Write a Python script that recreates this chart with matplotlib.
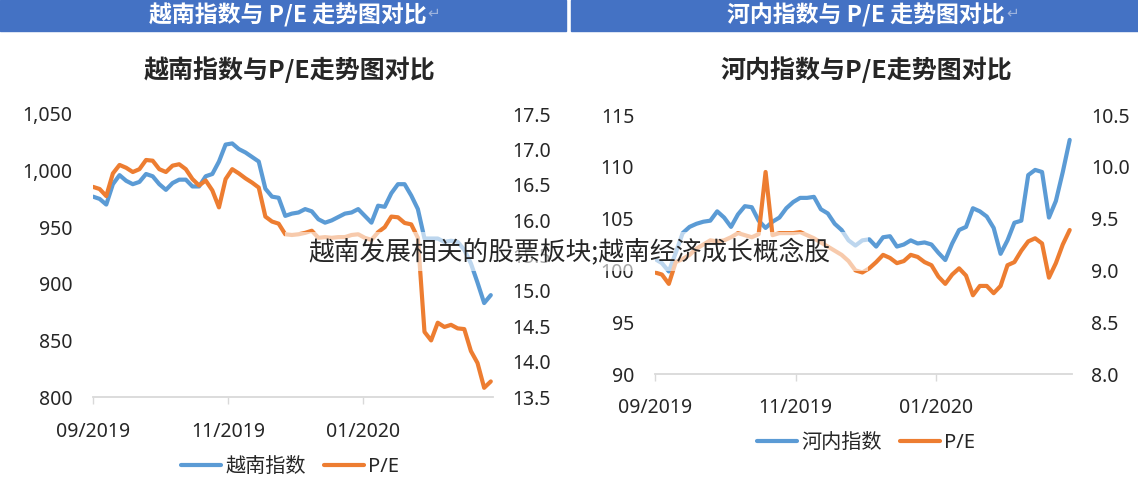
import numpy as np
import pandas as pd
import matplotlib
matplotlib.use("Agg")
import matplotlib.pyplot as plt
import matplotlib.dates as mdates
from matplotlib.patches import Rectangle
from matplotlib.ticker import FuncFormatter

plt.rcParams['font.family'] = ['Noto Sans', 'Noto Sans CJK SC', 'DejaVu Sans']

# ---------------- data ----------------
dates = pd.date_range('2019-09-01', periods=61, freq='3D')

vn_index = [977, 975, 970, 988, 996, 991, 988, 990, 997, 995,
            988, 983, 989, 992, 992, 986, 986, 995, 997, 1008,
            1023, 1024, 1019, 1016, 1012, 1008, 984, 977, 976, 960,
            962, 963, 966, 964, 957, 954, 956, 959, 962, 963,
            966, 960, 954, 969, 968, 980, 988, 988, 978, 966,
            940, 940, 940, 937, 938, 937, 930, 918, 901, 883, 890]

vn_pe = [16.47, 16.44, 16.34, 16.66, 16.78, 16.74, 16.68, 16.72, 16.85, 16.84,
         16.72, 16.68, 16.77, 16.79, 16.72, 16.58, 16.49, 16.56, 16.42, 16.18,
         16.58, 16.72, 16.66, 16.59, 16.53, 16.46, 16.05, 15.98, 15.95, 15.80,
         15.79, 15.80, 15.82, 15.85, 15.75, 15.76, 15.75, 15.76, 15.76, 15.79,
         15.80, 15.75, 15.72, 15.83, 15.90, 16.05, 16.04, 15.96, 15.94, 15.75,
         14.42, 14.30, 14.55, 14.49, 14.52, 14.47, 14.46, 14.15, 13.98, 13.63, 13.72]

hn_index = [101.1, 100.7, 99.9, 101.7, 103.6, 104.2, 104.5, 104.7, 104.8, 105.7,
            105.1, 104.2, 105.4, 106.2, 106.1, 104.8, 104.1, 104.7, 105.1, 106.0,
            106.6, 107.0, 107.0, 107.1, 105.9, 105.5, 104.5, 103.9, 102.9, 102.4,
            102.9, 103.0, 102.3, 103.2, 103.3, 102.3, 102.5, 102.9, 102.6, 102.7,
            102.5, 101.7, 101.0, 102.6, 103.9, 104.2, 106.0, 105.7, 105.2, 104.1,
            101.6, 102.9, 104.6, 104.8, 109.2, 109.7, 109.5, 105.1, 106.7, 109.5, 112.6]

hn_pe = [8.98, 8.96, 8.87, 9.08, 9.11, 9.15, 9.21, 9.25, 9.29, 9.28,
         9.29, 9.32, 9.36, 9.34, 9.32, 9.35, 9.95, 9.34, 9.36, 9.36,
         9.36, 9.37, 9.34, 9.31, 9.27, 9.23, 9.19, 9.15, 9.09, 9.00,
         8.98, 9.02, 9.08, 9.15, 9.12, 9.07, 9.09, 9.15, 9.13, 9.08,
         9.05, 8.94, 8.87, 8.96, 9.02, 8.95, 8.76, 8.85, 8.85, 8.78,
         8.85, 9.05, 9.08, 9.19, 9.28, 9.31, 9.26, 8.93, 9.07, 9.25, 9.39]

header_titles = ['越南指数与 P/E 走势图对比', '河内指数与 P/E 走势图对比']
chart_titles = ['越南指数与P/E走势图对比', '河内指数与P/E走势图对比']
index_names = ['越南指数', '河内指数']
pe_name = 'P/E'
watermark = '越南发展相关的股票板块;越南经济成长概念股'

BLUE = '#5B9BD5'
ORANGE = '#ED7D31'
W, H = 1138, 490
CJK = ['Noto Sans CJK SC', 'DejaVu Sans']

fig = plt.figure(figsize=(W / 100, H / 100), dpi=100)


def fx(px):
    return px / W


def fy(py):
    return 1 - py / H


# header bars
for x0, x1, cx, title in [(0, 566, 288, header_titles[0]), (571, 1138, 866, header_titles[1])]:
    fig.add_artist(Rectangle((fx(x0), fy(31)), fx(x1 - x0), 31 / H,
                             transform=fig.transFigure, color='#4472C4', zorder=0))
    fig.text(fx(cx), fy(15), title, ha='center', va='center', color='white',
             fontsize=16.5, fontweight='bold', family=CJK)

fig.text(fx(434), fy(13), '↵', ha='center', va='center', color='#9db3dd', fontsize=11,
         family=['DejaVu Sans'])
fig.text(fx(1013), fy(13), '↵', ha='center', va='center', color='#9db3dd', fontsize=11,
         family=['DejaVu Sans'])

configs = [
    dict(rect=(93, 114, 493, 397), idx=vn_index, pe=vn_pe, name=index_names[0],
         ylim=(800, 1050), ystep=50, y2lim=(13.5, 17.5), y2step=0.5,
         fmt=lambda v, p: f'{v:,.0f}', title=chart_titles[0], tcx=290, legy=467, xpad=13),
    dict(rect=(655, 115, 1072, 374), idx=hn_index, pe=hn_pe, name=index_names[1],
         ylim=(90, 115), ystep=5, y2lim=(8.0, 10.5), y2step=0.5,
         fmt=lambda v, p: f'{v:.0f}', title=chart_titles[1], tcx=866, legy=443, xpad=12),
]

for c in configs:
    x0, y0, x1, y1 = c['rect']
    ax = fig.add_axes([fx(x0), fy(y1), fx(x1 - x0), (y1 - y0) / H])
    ax2 = ax.twinx()
    l1, = ax.plot(dates, c['idx'], color=BLUE, lw=3, solid_joinstyle='round',
                  solid_capstyle='round', label=c['name'])
    l2, = ax2.plot(dates, c['pe'], color=ORANGE, lw=3, solid_joinstyle='round',
                   solid_capstyle='round', label=pe_name)
    ax.set_xlim(pd.Timestamp('2019-09-01'), pd.Timestamp('2020-02-29'))
    ax.set_ylim(*c['ylim'])
    ax.set_yticks(np.arange(c['ylim'][0], c['ylim'][1] + 0.001, c['ystep']))
    ax.yaxis.set_major_formatter(FuncFormatter(c['fmt']))
    ax2.set_ylim(*c['y2lim'])
    ax2.set_yticks(np.arange(c['y2lim'][0], c['y2lim'][1] + 0.001, c['y2step']))
    ax2.yaxis.set_major_formatter(FuncFormatter(lambda v, p: f'{v:.1f}'))
    ax.xaxis.set_major_locator(mdates.MonthLocator(bymonth=[9, 11, 1]))
    ax.xaxis.set_major_formatter(mdates.DateFormatter('%m/%Y'))
    for a in (ax, ax2):
        for s in a.spines.values():
            s.set_visible(False)
        a.patch.set_visible(False)
    ax.spines['bottom'].set_visible(True)
    ax.spines['bottom'].set_color('#D9D9D9')
    ax.spines['bottom'].set_linewidth(1.3)
    ax.tick_params(axis='x', length=5, width=1, color='#D9D9D9', pad=c['xpad'],
                   labelsize=14, labelcolor='#262626')
    ax.tick_params(axis='y', length=0, pad=15, labelsize=14, labelcolor='#262626')
    ax2.tick_params(axis='y', length=0, pad=14, labelsize=14, labelcolor='#262626')
    fig.text(fx(c['tcx']), fy(70), c['title'], ha='center', va='center',
             fontsize=18, fontweight='bold', color='#262626', family=CJK)
    fig.legend(handles=[l1, l2], loc='center', bbox_to_anchor=(fx(c['tcx']), fy(c['legy'])),
               ncol=2, frameon=False, fontsize=14.5, handlelength=2.0,
               handletextpad=0.2, columnspacing=0.9, labelcolor='#262626')

# watermark band
fig.add_artist(Rectangle((fx(285), fy(271)), fx(583), 39 / H, transform=fig.transFigure,
                         facecolor='white', edgecolor='none', alpha=0.6, zorder=10))
fig.text(fx(569), fy(253), watermark, ha='center', va='center', fontsize=18.5,
         color='#262626', fontweight='light', family=CJK, zorder=11)

fig.savefig('out.png', dpi=100)
